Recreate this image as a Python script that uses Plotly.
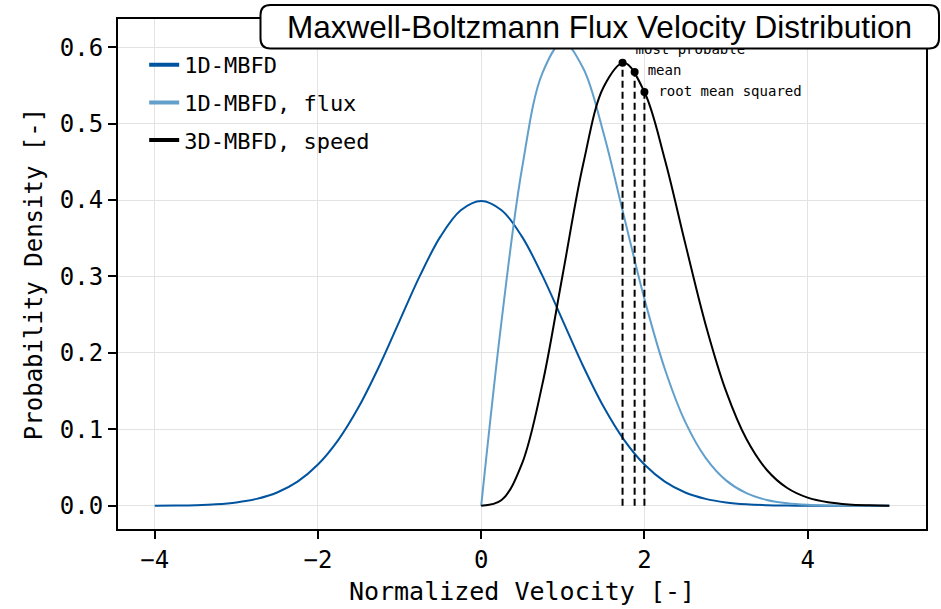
import plotly.graph_objects as go

# Normalized velocity grid and the three distributions
v_1d = [-4.0, -3.75, -3.5, -3.25, -3.0, -2.75, -2.5, -2.25, -2.0, -1.75, -1.5, -1.25,
        -1.0, -0.75, -0.5, -0.25, 0.0, 0.25, 0.5, 0.75, 1.0, 1.25, 1.5, 1.75, 2.0,
        2.25, 2.5, 2.75, 3.0, 3.25, 3.5, 3.75, 4.0, 4.25, 4.5, 4.75, 5.0]
pdf_1d = [0.0001, 0.0004, 0.0009, 0.0020, 0.0044, 0.0091, 0.0175, 0.0317, 0.0540,
          0.0863, 0.1295, 0.1826, 0.2420, 0.3011, 0.3521, 0.3867, 0.3989, 0.3867,
          0.3521, 0.3011, 0.2420, 0.1826, 0.1295, 0.0863, 0.0540, 0.0317, 0.0175,
          0.0091, 0.0044, 0.0020, 0.0009, 0.0004, 0.0001, 0.0000, 0.0000, 0.0000, 0.0000]

v_pos = [0.0, 0.25, 0.5, 0.75, 1.0, 1.25, 1.5, 1.75, 2.0, 2.25, 2.5, 2.75, 3.0,
         3.25, 3.5, 3.75, 4.0, 4.25, 4.5, 4.75, 5.0]
pdf_flux = [0.0, 0.2423, 0.4412, 0.5661, 0.6065, 0.5723, 0.4870, 0.3785, 0.2707,
            0.1790, 0.1098, 0.0627, 0.0333, 0.0165, 0.0077, 0.0033, 0.0013, 0.0005,
            0.0002, 0.0001, 0.0000]
pdf_speed = [0.0, 0.0076, 0.0552, 0.1592, 0.3033, 0.4471, 0.5478, 0.5795, 0.5413,
             0.4531, 0.3433, 0.2370, 0.1500, 0.0873, 0.0469, 0.0233, 0.0107, 0.0046,
             0.0018, 0.0007, 0.0002]

# Characteristic speeds of the 3D distribution
stat_names = ["most probable", "mean", "root mean squared"]
stat_v = [1.732, 1.880, 2.000]
stat_pdf = [0.5797, 0.5675, 0.5413]

series_names = ["1D-MBFD", "1D-MBFD, flux", "3D-MBFD, speed"]
DARK_BLUE = "#00549F"
LIGHT_BLUE = "#62A0CB"
BLACK = "#000000"

MONO = "DejaVu Sans Mono"
SANS = "Liberation Sans"

X_RANGE = [-4.45, 5.45]
Y_RANGE = [-0.0303, 0.6368]

W, H = 941, 609
M_L, M_R, M_T, M_B = 118, 15, 19, 80
PLOT_W = W - M_L - M_R
PLOT_H = H - M_T - M_B
px_per_x = PLOT_W / (X_RANGE[1] - X_RANGE[0])
px_per_y = PLOT_H / (Y_RANGE[1] - Y_RANGE[0])

fig = go.Figure()

# Curves
for xs, ys, color in [(v_1d, pdf_1d, DARK_BLUE), (v_pos, pdf_flux, LIGHT_BLUE),
                      (v_pos, pdf_speed, BLACK)]:
    fig.add_trace(go.Scatter(x=xs, y=ys, mode="lines", showlegend=False,
                             line=dict(color=color, width=2, shape="spline", smoothing=1.0),
                             hoverinfo="skip"))

# Dashed markers from the axis up to each characteristic speed
for v, p in zip(stat_v, stat_pdf):
    fig.add_trace(go.Scatter(x=[v, v], y=[0, p], mode="lines", showlegend=False,
                             line=dict(color=BLACK, width=2, dash="7px,4px"),
                             hoverinfo="skip"))

fig.add_trace(go.Scatter(x=stat_v, y=stat_pdf, mode="markers", showlegend=False,
                         marker=dict(color=BLACK, size=8), hoverinfo="skip"))

# Labels beside each point (pixel offsets converted to data units)
label_dx = [13, 13, 14]
label_dy = [12, 0, 0]
fig.add_trace(go.Scatter(
    x=[v + dx / px_per_x for v, dx in zip(stat_v, label_dx)],
    y=[p + dy / px_per_y for p, dy in zip(stat_pdf, label_dy)],
    text=stat_names, mode="text", textposition="middle right", showlegend=False,
    textfont=dict(family=MONO, size=14, color=BLACK), hoverinfo="skip"))

# Legend entries with thicker sample lines
for i, (name, color) in enumerate(zip(series_names, [DARK_BLUE, LIGHT_BLUE, BLACK])):
    fig.add_trace(go.Scatter(x=[None], y=[None], mode="lines", name=name,
                             legendgroup=str(i), line=dict(color=color, width=4)))

axis_common = dict(
    showline=True, linecolor=BLACK, linewidth=2, mirror=True,
    showgrid=True, gridcolor="#E3E3E3", gridwidth=1.2,
    ticks="outside", ticklen=8, tickwidth=1.5, tickcolor=BLACK,
    zeroline=False, automargin=False,
    tickfont=dict(family=MONO, size=24, color=BLACK),
)

fig.update_xaxes(range=X_RANGE, tickvals=[-4, -2, 0, 2, 4],
                 title=dict(text="Normalized Velocity [-]",
                            font=dict(family=MONO, size=25, color=BLACK), standoff=10),
                 **axis_common)
fig.update_yaxes(range=Y_RANGE, tickvals=[0.0, 0.1, 0.2, 0.3, 0.4, 0.5, 0.6],
                 tickformat=".1f",
                 title=dict(text="Probability Density [-]",
                            font=dict(family=MONO, size=24, color=BLACK), standoff=10),
                 **axis_common)

# Rounded title box drawn over the plot frame
bx0, bx1 = (260.5 - M_L) / PLOT_W, (939 - M_L) / PLOT_W
by0, by1 = (H - M_B - 48.5) / PLOT_H, (H - M_B - 5) / PLOT_H
rx, ry = 10 / PLOT_W, 10 / PLOT_H
path = (f"M {bx0 + rx},{by1} L {bx1 - rx},{by1} Q {bx1},{by1} {bx1},{by1 - ry} "
        f"L {bx1},{by0 + ry} Q {bx1},{by0} {bx1 - rx},{by0} "
        f"L {bx0 + rx},{by0} Q {bx0},{by0} {bx0},{by0 + ry} "
        f"L {bx0},{by1 - ry} Q {bx0},{by1} {bx0 + rx},{by1} Z")
fig.add_shape(type="path", path=path, xref="paper", yref="paper", layer="above",
              fillcolor="white", line=dict(color=BLACK, width=2))
fig.add_annotation(text="Maxwell-Boltzmann Flux Velocity Distribution",
                   xref="paper", yref="paper", x=(bx0 + bx1) / 2, y=(by0 + by1) / 2,
                   xanchor="center", yanchor="middle", showarrow=False,
                   font=dict(family=SANS, size=31.5, color=BLACK))

fig.update_layout(
    width=W, height=H,
    margin=dict(l=M_L, r=M_R, t=M_T, b=M_B),
    paper_bgcolor="white", plot_bgcolor="white",
    legend=dict(x=0.0324, y=0.951, xanchor="left", yanchor="top",
                bgcolor="rgba(0,0,0,0)", borderwidth=0,
                font=dict(family=MONO, size=22, color=BLACK),
                traceorder="grouped", tracegroupgap=6),
)

fig.write_html("out.html")
